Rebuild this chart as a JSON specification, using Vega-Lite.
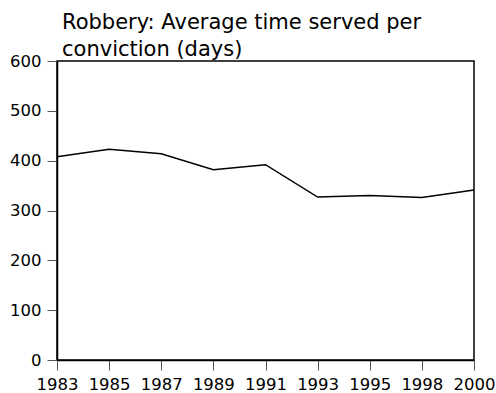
{
  "$schema": "https://vega.github.io/schema/vega-lite/v6.json",
  "autosize": "none",
  "width": 417,
  "height": 299,
  "padding": {"left": 57, "top": 61, "right": 22, "bottom": 33},
  "background": "white",
  "title": {
    "text": ["Robbery: Average time served per", "conviction (days)"],
    "anchor": "start",
    "frame": "group",
    "dx": 5,
    "offset": -24,
    "font": "DejaVu Sans",
    "fontSize": 21,
    "fontWeight": "normal",
    "color": "#000",
    "lineHeight": 27,
    "baseline": "alphabetic"
  },
  "config": {
    "view": {"stroke": "#000", "strokeWidth": 1.5},
    "axis": {
      "labelFont": "DejaVu Sans",
      "labelFontSize": 16.5,
      "labelColor": "#000",
      "domainColor": "#000",
      "domainWidth": 1.5,
      "tickColor": "#555",
      "tickSize": 10,
      "tickWidth": 1,
      "grid": false,
      "title": null
    }
  },
  "data": {
    "values": [
      {"year": "1983", "days": 408},
      {"year": "1985", "days": 423},
      {"year": "1987", "days": 414},
      {"year": "1989", "days": 382},
      {"year": "1991", "days": 392},
      {"year": "1993", "days": 327},
      {"year": "1995", "days": 330},
      {"year": "1998", "days": 326},
      {"year": "2000", "days": 341}
    ]
  },
  "mark": {"type": "line", "color": "#000", "strokeWidth": 1.5},
  "encoding": {
    "x": {
      "field": "year",
      "type": "ordinal",
      "scale": {"type": "point", "padding": 0},
      "axis": {"labelAngle": 0, "labelPadding": 6}
    },
    "y": {
      "field": "days",
      "type": "quantitative",
      "scale": {"domain": [0, 600], "nice": false},
      "axis": {"values": [0, 100, 200, 300, 400, 500, 600], "labelPadding": 6}
    }
  }
}
